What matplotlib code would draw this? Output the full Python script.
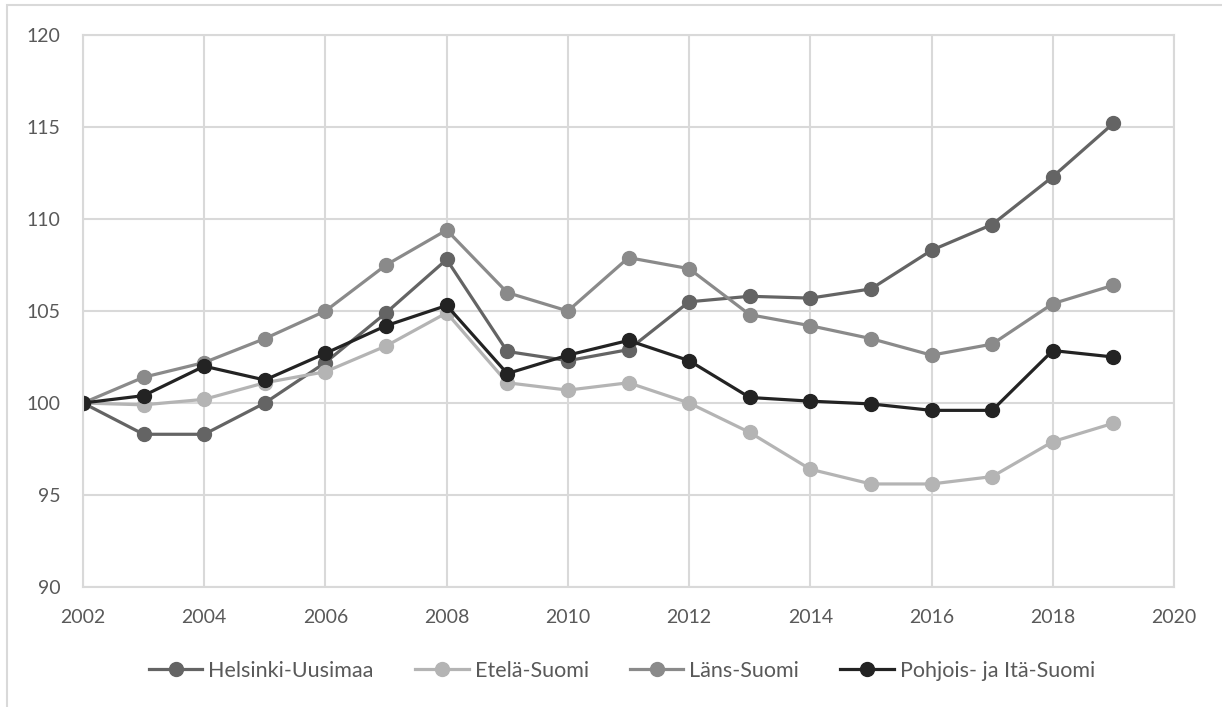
import matplotlib.pyplot as plt
from matplotlib.patches import Rectangle

years = list(range(2002, 2020))
helsinki = [100, 98.3, 98.3, 100, 102.2, 104.9, 107.8, 102.8, 102.3, 102.9,
            105.5, 105.8, 105.7, 106.2, 108.3, 109.7, 112.3, 115.2]
etela = [100, 99.9, 100.2, 101.1, 101.7, 103.1, 104.9, 101.1, 100.7, 101.1,
         100.0, 98.4, 96.4, 95.6, 95.6, 96.0, 97.9, 98.9]
lans = [100, 101.4, 102.2, 103.5, 105.0, 107.5, 109.4, 106.0, 105.0, 107.9,
        107.3, 104.8, 104.2, 103.5, 102.6, 103.2, 105.4, 106.4]
pohjois = [100, 100.4, 102.0, 101.25, 102.7, 104.2, 105.3, 101.6, 102.6, 103.4,
           102.3, 100.3, 100.1, 99.95, 99.6, 99.6, 102.85, 102.5]

series = [
    ("Helsinki-Uusimaa", helsinki, "#646464"),
    ("Etelä-Suomi", etela, "#b4b4b4"),
    ("Läns-Suomi", lans, "#8a8a8a"),
    ("Pohjois- ja Itä-Suomi", pohjois, "#232323"),
]

plt.rcParams['font.family'] = ['Lato', 'DejaVu Sans']
text_col = "#595959"
grid_col = "#d9d9d9"

fig = plt.figure(figsize=(12.22, 7.07), dpi=100)
ax = fig.add_axes([83/1222, 1 - 587/707, (1174 - 83)/1222, (587 - 35)/707])

# outer chart border (partly cut off in the original)
fig.patches.append(Rectangle((7/1222, -0.05), 1.1, 1 - 5/707 + 0.05,
                             transform=fig.transFigure, fill=False,
                             edgecolor=grid_col, linewidth=1.5))

for name, vals, col in series:
    ax.plot(years, vals, color=col, linewidth=2.3, marker='o', markersize=10,
            label=name)

ax.set_xlim(2002, 2020)
ax.set_ylim(90, 120)
ax.set_xticks(range(2002, 2021, 2))
ax.set_yticks(range(90, 121, 5))
ax.grid(True, color=grid_col, linewidth=1.5)
ax.set_axisbelow(True)
for sp in ax.spines.values():
    sp.set_color(grid_col)
    sp.set_linewidth(1.5)
ax.tick_params(length=0, labelsize=14, colors=text_col)
ax.tick_params(axis='x', pad=16)
ax.tick_params(axis='y', pad=16)

fig.legend(loc='center', bbox_to_anchor=(622/1222, 1 - 671/707), ncol=4,
           frameon=False, fontsize=15.5, labelcolor=text_col, handlelength=2.5,
           columnspacing=1.9, handletextpad=0.28)

fig.savefig("out.png", dpi=100)
